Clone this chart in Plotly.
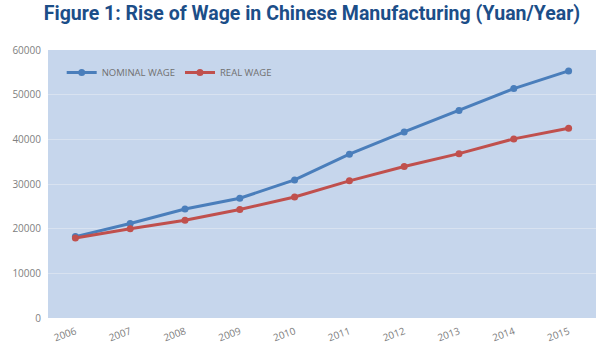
import plotly.graph_objects as go

years = ["2006", "2007", "2008", "2009", "2010", "2011", "2012", "2013", "2014", "2015"]
nominal_wage = [18225, 21144, 24404, 26810, 30916, 36665, 41650, 46431, 51369, 55324]
real_wage = [17900, 20000, 21900, 24300, 27100, 30700, 33900, 36800, 40100, 42500]
y_ticks = [0, 10000, 20000, 30000, 40000, 50000, 60000]

fig = go.Figure()
fig.add_trace(go.Scatter(
    x=years, y=nominal_wage, name="NOMINAL WAGE", mode="lines+markers",
    line=dict(color="#4a7ebb", width=3), marker=dict(size=7, color="#4a7ebb"),
))
fig.add_trace(go.Scatter(
    x=years, y=real_wage, name="REAL WAGE", mode="lines+markers",
    line=dict(color="#c0504d", width=3), marker=dict(size=7, color="#c0504d"),
))

fig.update_layout(
    width=600, height=353,
    margin=dict(l=48, r=4, t=50, b=35),
    paper_bgcolor="white",
    plot_bgcolor="#c6d6ec",
    title=dict(
        text="<b>Figure 1: Rise of Wage in Chinese Manufacturing (Yuan/Year)</b>",
        x=0.52, xanchor="center", y=0.962, yanchor="middle",
        font=dict(family="Roboto", size=19.5, color="#1c4e88"),
    ),
    legend=dict(
        orientation="h", x=0.025, y=0.97, xanchor="left", yanchor="top",
        bgcolor="rgba(0,0,0,0)", font=dict(family="Open Sans", size=9.5, color="#707070"),
        itemwidth=30,
    ),
    xaxis=dict(
        type="category", range=[-0.5, 9.5], tickangle=-20,
        tickfont=dict(family="Open Sans", size=10, color="#808080"),
        showgrid=False, showline=False, ticks="", ticklabelstandoff=5,
    ),
    yaxis=dict(
        range=[0, 60000], tickvals=y_ticks, ticktext=[str(v) for v in y_ticks],
        tickfont=dict(family="Open Sans", size=10, color="#808080"),
        gridcolor="#d8e2f0", gridwidth=1, zeroline=False, showline=False,
        ticks="", ticklabelstandoff=6,
    ),
)

fig.write_html("out.html")
